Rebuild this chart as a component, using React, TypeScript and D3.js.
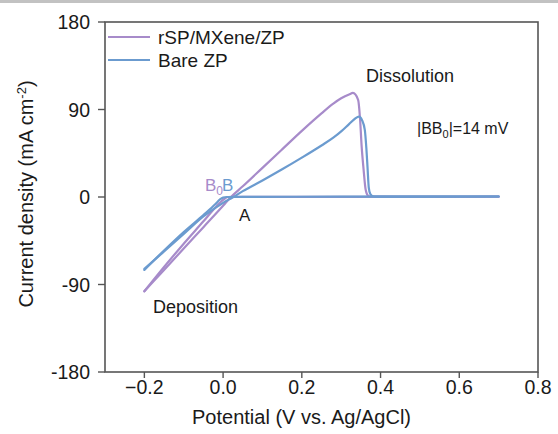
import React from "react";
import * as d3 from "d3";

// Cyclic voltammetry sweeps: [potential (V vs. Ag/AgCl), current density (mA cm^-2)]
// Each sweep is listed with increasing potential.
const mxeneForward: [number, number][] = [
  [-0.2, -97], [-0.15, -75], [-0.1, -53], [-0.05, -31], [0, -9], [0.02, 0],
  [0.05, 11], [0.1, 30], [0.15, 49], [0.2, 68], [0.25, 86], [0.28, 96],
  [0.3, 101.5], [0.32, 105.5], [0.33, 107], [0.343, 100], [0.348, 80],
  [0.352, 52], [0.357, 28], [0.362, 8], [0.368, 1.5], [0.375, 0.3], [0.45, 0.2], [0.7, 0.3],
];
const mxeneReverse: [number, number][] = [
  [-0.2, -97], [-0.15, -72], [-0.1, -48], [-0.05, -25], [-0.02, -11], [0, -3],
  [0.012, 0], [0.05, 0.2], [0.3, 0.2], [0.7, 0.3],
];
const bareForward: [number, number][] = [
  [-0.2, -74], [-0.15, -56], [-0.1, -38], [-0.05, -20], [0, -6], [0.026, 0],
  [0.05, 6], [0.1, 17], [0.15, 28.5], [0.2, 40.5], [0.25, 53], [0.28, 61],
  [0.3, 67.5], [0.32, 75], [0.335, 80.5], [0.345, 82.6], [0.353, 79],
  [0.36, 69], [0.364, 50], [0.367, 30], [0.37, 10], [0.374, 3], [0.38, 0.8],
  [0.39, 0.3], [0.5, 0.3], [0.7, 0.5],
];
const bareReverse: [number, number][] = [
  [-0.2, -75], [-0.15, -55], [-0.1, -36], [-0.05, -18.5], [-0.02, -7.5],
  [-0.008, -2.5], [0.0, -0.6], [0.01, 0], [0.05, 0.2], [0.3, 0.3], [0.7, 0.5],
];

const seriesNames = ["rSP/MXene/ZP", "Bare ZP"];
const seriesColors = ["#a78bca", "#6b9bcf"];
const xTicks = [-0.2, 0.0, 0.2, 0.4, 0.6, 0.8];
const yTicks = [-180, -90, 0, 90, 180];

const W = 558;
const H = 434;
const margin = { left: 105, right: 20, top: 22, bottom: 62 };
const FONT = "'Liberation Sans', Arial, Helvetica, sans-serif";

export default function App() {
  const x = d3.scaleLinear().domain([-0.3, 0.8]).range([margin.left, W - margin.right]);
  const y = d3.scaleLinear().domain([-180, 180]).range([H - margin.bottom, margin.top]);
  const line = d3
    .line<[number, number]>()
    .x((d) => x(d[0]))
    .y((d) => y(d[1]))
    .curve(d3.curveMonotoneX);

  const [x0, x1] = x.range();
  const [yb, yt] = y.range();
  const axisColor = "#555";

  const sweeps = [
    { data: mxeneReverse, color: seriesColors[0] },
    { data: mxeneForward, color: seriesColors[0] },
    { data: bareReverse, color: seriesColors[1] },
    { data: bareForward, color: seriesColors[1] },
  ];

  return (
    <svg
      width={W}
      height={H}
      style={{ position: "absolute", left: 0, top: 0, background: "#fff" }}
      fontFamily={FONT}
    >
      <rect x={0} y={0} width={W} height={3} fill="#c2c2c2" />

      {sweeps.map((s, i) => (
        <path
          key={i}
          d={line(s.data) ?? ""}
          fill="none"
          stroke={s.color}
          strokeWidth={2.2}
          strokeLinejoin="round"
          strokeLinecap="round"
        />
      ))}

      {/* frame */}
      <rect x={x0} y={yt} width={x1 - x0} height={yb - yt} fill="none" stroke={axisColor} strokeWidth={1.6} />

      {/* y axis ticks */}
      {yTicks.map((t) => (
        <g key={t}>
          <line x1={x0 - 7} x2={x0} y1={y(t)} y2={y(t)} stroke={axisColor} strokeWidth={1.4} />
          <text x={x0 - 15} y={y(t) + 7} textAnchor="end" fontSize={19.5} fill="#1a1a1a">
            {t}
          </text>
        </g>
      ))}

      {/* x axis ticks */}
      {xTicks.map((t) => (
        <g key={t}>
          <line x1={x(t)} x2={x(t)} y1={yb} y2={yb + 6} stroke={axisColor} strokeWidth={1.4} />
          <text x={x(t)} y={yb + 22} textAnchor="middle" fontSize={19.5} fill="#1a1a1a">
            {d3.format(".1f")(t)}
          </text>
        </g>
      ))}

      {/* axis titles */}
      <text x={(x0 + x1) / 2 - 20} y={424} textAnchor="middle" fontSize={20} fill="#1a1a1a">
        Potential (V vs. Ag/AgCl)
      </text>
      <text
        transform={`translate(33, ${(yt + yb) / 2 - 3}) rotate(-90)`}
        textAnchor="middle"
        fontSize={20}
        fill="#1a1a1a"
      >
        Current density (mA cm
        <tspan dy={-7} fontSize={13}>-2</tspan>
        <tspan dy={7}>)</tspan>
      </text>

      {/* legend */}
      {seriesNames.map((name, i) => (
        <g key={name}>
          <line x1={108} x2={150} y1={37 + i * 23} y2={37 + i * 23} stroke={seriesColors[i]} strokeWidth={2.2} />
          <text x={158} y={44 + i * 23} fontSize={19} fill="#1a1a1a">
            {name}
          </text>
        </g>
      ))}

      {/* annotations */}
      <text x={366} y={82} fontSize={18} fill="#1a1a1a">Dissolution</text>
      <text x={153} y={313} fontSize={18} fill="#1a1a1a">Deposition</text>
      <text x={417} y={134} fontSize={16} fill="#1a1a1a">
        |BB<tspan dy={4} fontSize={11}>0</tspan>
        <tspan dy={-4}>|=14 mV</tspan>
      </text>
      <text x={205} y={191} fontSize={17} fill={seriesColors[0]}>
        B<tspan dy={4} fontSize={12}>0</tspan>
      </text>
      <text x={222} y={191} fontSize={17} fill={seriesColors[1]}>B</text>
      <text x={239} y={221} fontSize={17} fill="#1a1a1a">A</text>
    </svg>
  );
}
